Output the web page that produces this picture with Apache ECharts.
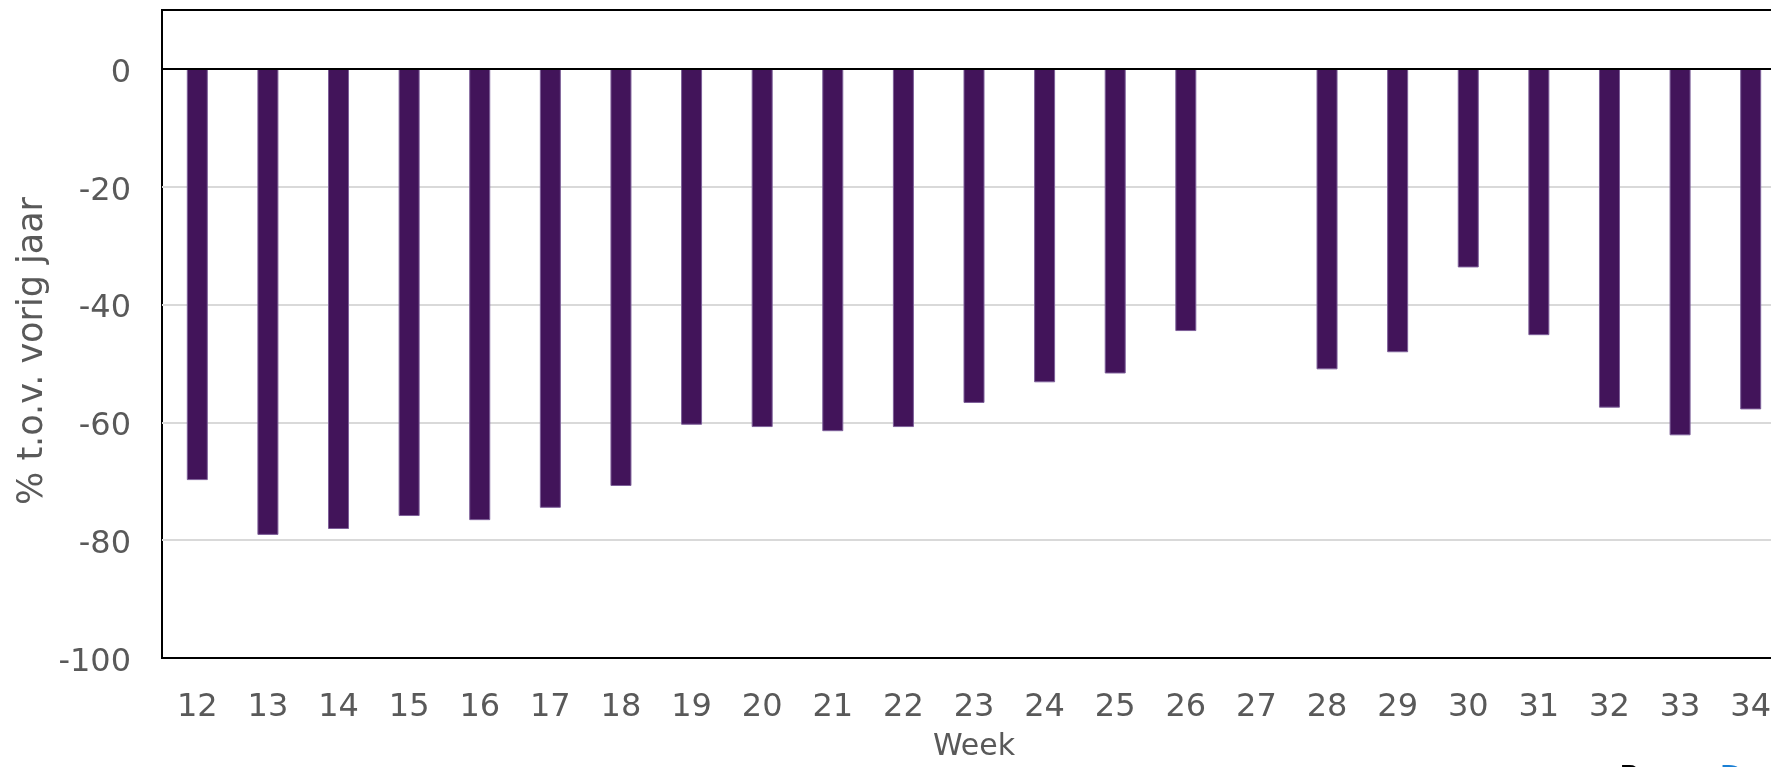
<!DOCTYPE html>
<html>
<head>
<meta charset="utf-8">
<script src="https://cdn.jsdelivr.net/npm/echarts@6/dist/echarts.min.js"></script>
<style>
  html, body { margin: 0; padding: 0; overflow: hidden; background: #fff; }
  #chart { width: 1800px; height: 767px; }
</style>
</head>
<body>
<div id="chart"></div>
<script>
// Weekly change compared with the same week last year (%)
const weeks = ['12','13','14','15','16','17','18','19','20','21','22','23','24','25','26','27','28','29','30','31','32','33','34'];
const change = [-69.8, -79.1, -78.1, -75.9, -76.6, -74.5, -70.8, -60.4, -60.8, -61.5, -60.8, -56.7,
                -53.2, -51.7, -44.5, null, -51.0, -48.1, -33.7, -45.2, -57.5, -62.2, -57.8];
const yTicks = { min: -100, max: 10, step: 20 };

const textGrey = '#595959';
const font = 'DejaVu Sans';

const chart = echarts.init(document.getElementById('chart'), null, { renderer: 'canvas' });
chart.setOption({
  animation: false,
  backgroundColor: '#ffffff',
  grid: {
    left: 162, top: 10, right: 14, bottom: 104,
    show: true, borderColor: '#000000', borderWidth: 2, backgroundColor: 'transparent'
  },
  xAxis: {
    type: 'category',
    data: weeks,
    position: 'bottom',
    name: 'Week',
    nameLocation: 'middle',
    nameGap: 74,
    nameTextStyle: { color: textGrey, fontSize: 30, fontFamily: font },
    axisLine: { show: false, onZero: false },
    axisTick: { show: false },
    axisLabel: { color: textGrey, fontSize: 32, fontFamily: font, margin: 34, interval: 0 },
    splitLine: { show: false }
  },
  yAxis: {
    type: 'value',
    min: yTicks.min,
    max: yTicks.max,
    interval: yTicks.step,
    axisLine: { show: false },
    axisTick: { show: false },
    axisLabel: {
      color: textGrey, fontSize: 32, fontFamily: font, margin: 31,
      verticalAlign: 'top', lineHeight: 9,
      formatter: v => (v > 0 ? '' : String(v))
    },
    splitLine: { show: true, lineStyle: { color: '#d9d9d9', width: 2 } }
  },
  graphic: [
    {
      type: 'text',
      x: 33, y: 351,
      rotation: Math.PI / 2,
      style: {
        text: '% t.o.v. vorig jaar',
        fill: textGrey,
        font: '35px "DejaVu Sans"',
        align: 'center',
        verticalAlign: 'middle'
      }
    },
    {
      type: 'text',
      x: 1619, y: 763,
      style: {
        text: '{a|Bron:}{b|Dashboard}',
        rich: {
          a: { fill: '#000000', font: '31px "DejaVu Sans"' },
          b: { fill: '#1a7fd4', font: '31px "DejaVu Sans"', padding: [0, 0, 0, 18] }
        },
        verticalAlign: 'top'
      }
    }
  ],
  series: [{
    type: 'bar',
    data: change,
    barWidth: 21,
    itemStyle: { color: '#42145a', borderColor: '#7d5f99', borderWidth: 1 },
    markLine: {
      silent: true,
      symbol: ['none', 'none'],
      label: { show: false },
      lineStyle: { color: '#000000', width: 2, type: 'solid' },
      // zero line plus the top and bottom edges of the plot frame
      data: [{ yAxis: 0 }, { yAxis: yTicks.max }, { yAxis: yTicks.min }]
    }
  }]
});
</script>
</body>
</html>
